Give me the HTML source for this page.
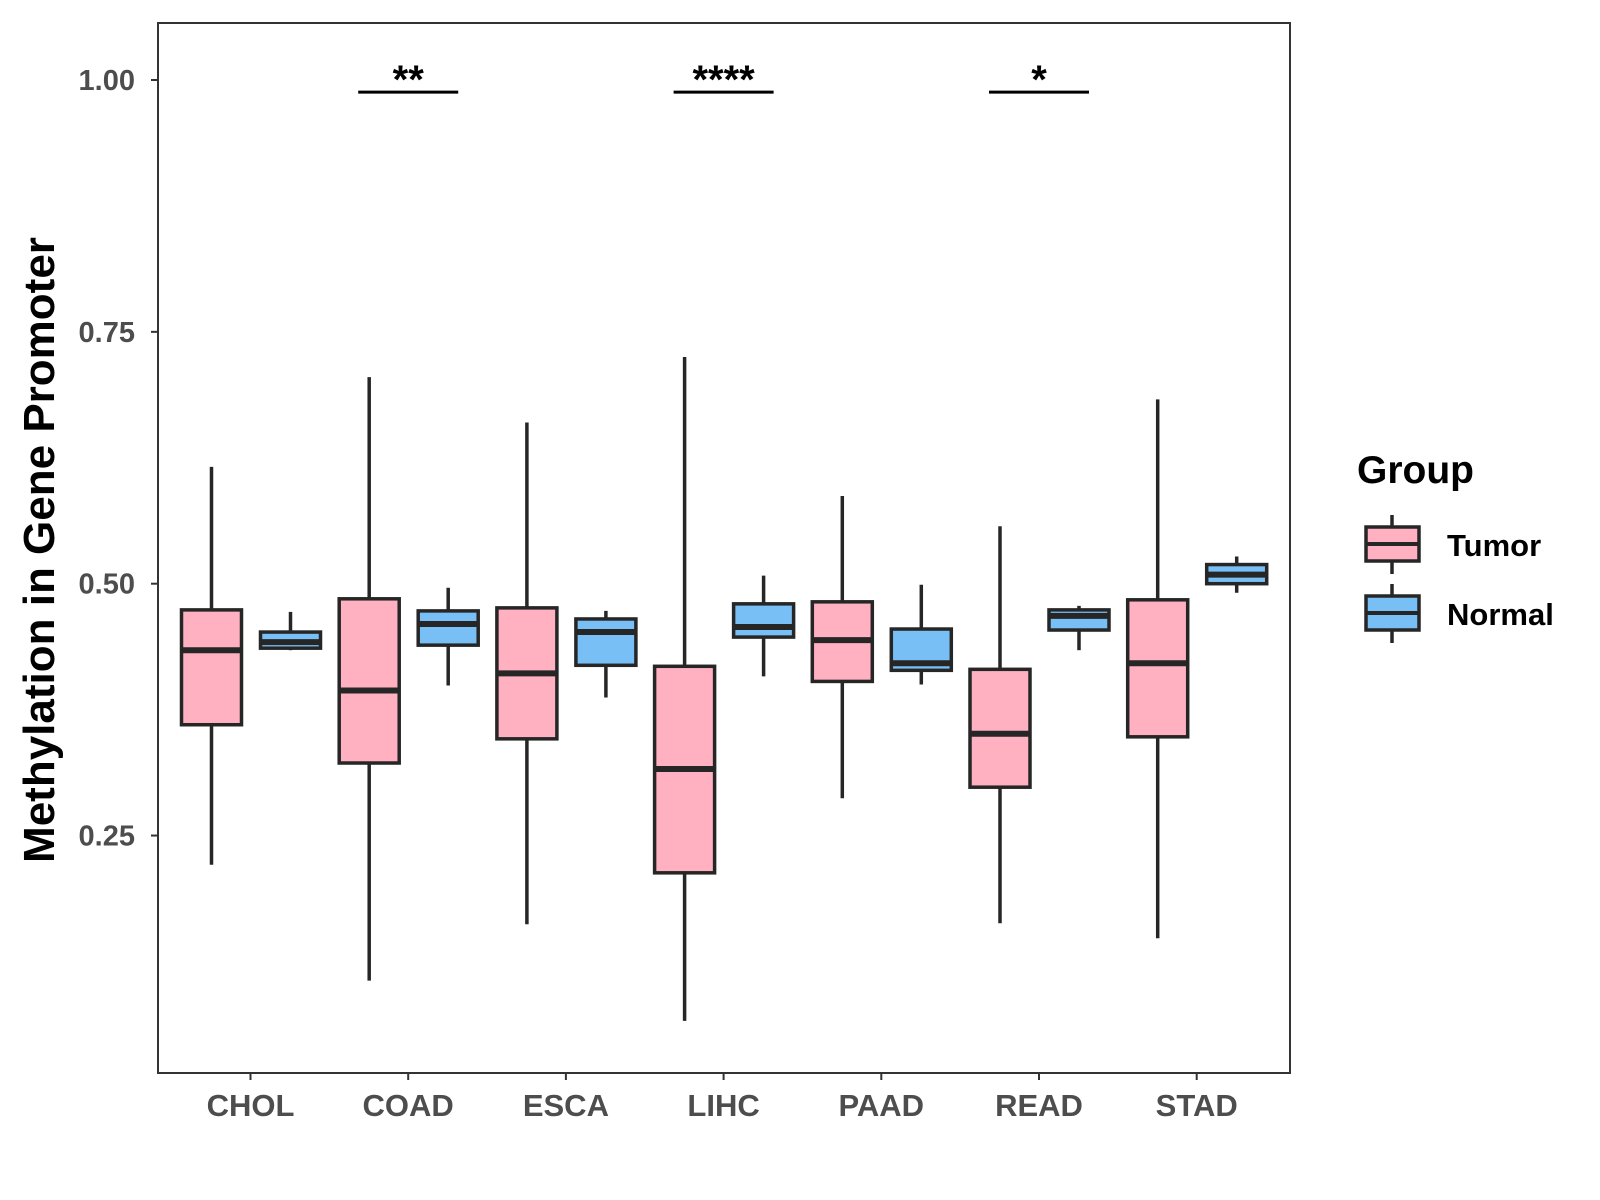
<!DOCTYPE html>
<html><head><meta charset="utf-8"><style>
html,body{margin:0;padding:0;background:#fff;}
svg{display:block;font-family:"Liberation Sans",Arial,sans-serif;}
</style></head><body>
<svg id="chart" width="1600" height="1200" viewBox="0 0 1600 1200" xmlns="http://www.w3.org/2000/svg">
<rect x="0" y="0" width="1600" height="1200" fill="#fff"/>
<g id="marks"></g>
<rect x="158" y="23" width="1132" height="1050" fill="none" stroke="#333" stroke-width="2"/>
<text transform="translate(54,550) rotate(-90)" text-anchor="middle" font-size="44" font-weight="bold" fill="#000">Methylation in Gene Promoter</text>
<g transform="translate(-6,0)">
<text x="1363" y="483" font-size="39" font-weight="bold" fill="#000">Group</text>
<g>
<line x1="1398" y1="515" x2="1398" y2="574" stroke="#262626" stroke-width="3.5"/>
<rect x="1372" y="527" width="53" height="34" fill="#FFB0C1" stroke="#262626" stroke-width="3.5"/>
<line x1="1372" y1="544" x2="1425" y2="544" stroke="#262626" stroke-width="4"/>
<text x="1453" y="556" font-size="31" font-weight="bold" fill="#000">Tumor</text>
</g>
<g>
<line x1="1398" y1="584" x2="1398" y2="643" stroke="#262626" stroke-width="3.5"/>
<rect x="1372" y="596" width="53" height="34" fill="#78BFF5" stroke="#262626" stroke-width="3.5"/>
<line x1="1372" y1="613" x2="1425" y2="613" stroke="#262626" stroke-width="4"/>
<text x="1453" y="625" font-size="31" font-weight="bold" fill="#000">Normal</text>
</g>
</g>
</svg>
<script>
const categories = ["CHOL","COAD","ESCA","LIHC","PAAD","READ","STAD"];
const tumorMin = [0.221,0.106,0.162,0.066,0.287,0.163,0.148];
const tumorQ1  = [0.360,0.322,0.346,0.213,0.403,0.298,0.348];
const tumorMed = [0.434,0.394,0.411,0.316,0.444,0.351,0.421];
const tumorQ3  = [0.474,0.485,0.476,0.418,0.482,0.415,0.484];
const tumorMax = [0.616,0.705,0.660,0.725,0.587,0.557,0.683];
const normalMin = [0.434,0.399,0.387,0.408,0.400,0.434,0.491];
const normalQ1  = [0.436,0.439,0.419,0.447,0.414,0.454,0.500];
const normalMed = [0.442,0.460,0.452,0.457,0.421,0.468,0.509];
const normalQ3  = [0.452,0.473,0.465,0.480,0.455,0.474,0.519];
const normalMax = [0.472,0.496,0.473,0.508,0.499,0.478,0.527];
const yTicks = [0.25,0.50,0.75,1.00];
const yTickLabels = ["0.25","0.50","0.75","1.00"];
const sigCategories = ["COAD","LIHC","READ"];
const sigLabels = ["**","****","*"];
const sigLevel = 0.988;

const NS="http://www.w3.org/2000/svg";
const svg=document.getElementById('chart');
const marks=document.getElementById('marks');
function y(v){return 80+(1-v)*1007.4;}
function x(i){return 250.5+157.7*i;}
function mk(tag,attrs,parent){const e=document.createElementNS(NS,tag);for(const k in attrs)e.setAttribute(k,attrs[k]);(parent||marks).appendChild(e);return e;}

yTicks.forEach((v,i)=>{
  const t=mk('line',{x1:151,x2:158,y1:y(v),y2:y(v),stroke:'#333','stroke-width':2},svg);
  
  
  const l=mk('text',{x:135,y:y(v)+10,'text-anchor':'end','font-size':29,'font-weight':'bold',fill:'#4d4d4d'},svg);
  l.textContent=yTickLabels[i];
  
  
});
categories.forEach((c,i)=>{
  const t=mk('line',{x1:x(i),x2:x(i),y1:1073,y2:1080,stroke:'#333','stroke-width':2},svg);
  
  
  const l=mk('text',{x:x(i),y:1116,'text-anchor':'middle','font-size':31,'font-weight':'bold',fill:'#4d4d4d'},svg);
  l.textContent=c;
  
  
});
function box(cx,mn,q1,md,q3,mx,fill,name){
  const g=mk('g',{});
  
  
  mk('line',{x1:cx,x2:cx,y1:y(mx),y2:y(mn),stroke:'#262626','stroke-width':3.5},g);
  mk('rect',{x:cx-30,y:y(q3),width:60,height:y(q1)-y(q3),fill:fill,stroke:'#262626','stroke-width':3.5},g);
  mk('line',{x1:cx-30,x2:cx+30,y1:y(md),y2:y(md),stroke:'#262626','stroke-width':6},g);
}
categories.forEach((c,i)=>{
  box(x(i)-39,tumorMin[i],tumorQ1[i],tumorMed[i],tumorQ3[i],tumorMax[i],'#FFB0C1','box-tumor-'+c.toLowerCase());
  box(x(i)+40,normalMin[i],normalQ1[i],normalMed[i],normalQ3[i],normalMax[i],'#78BFF5','box-normal-'+c.toLowerCase());
});
sigCategories.forEach((c,k)=>{
  const i=categories.indexOf(c);
  const ln=mk('line',{x1:x(i)-50,x2:x(i)+50,y1:y(sigLevel),y2:y(sigLevel),stroke:'#000','stroke-width':3});
  
  
  const t=mk('text',{x:x(i),y:y(sigLevel)+1,'text-anchor':'middle','font-size':40,'font-weight':'bold',fill:'#000'});
  t.textContent=sigLabels[k];
  
  
});
</script>
</body></html>
